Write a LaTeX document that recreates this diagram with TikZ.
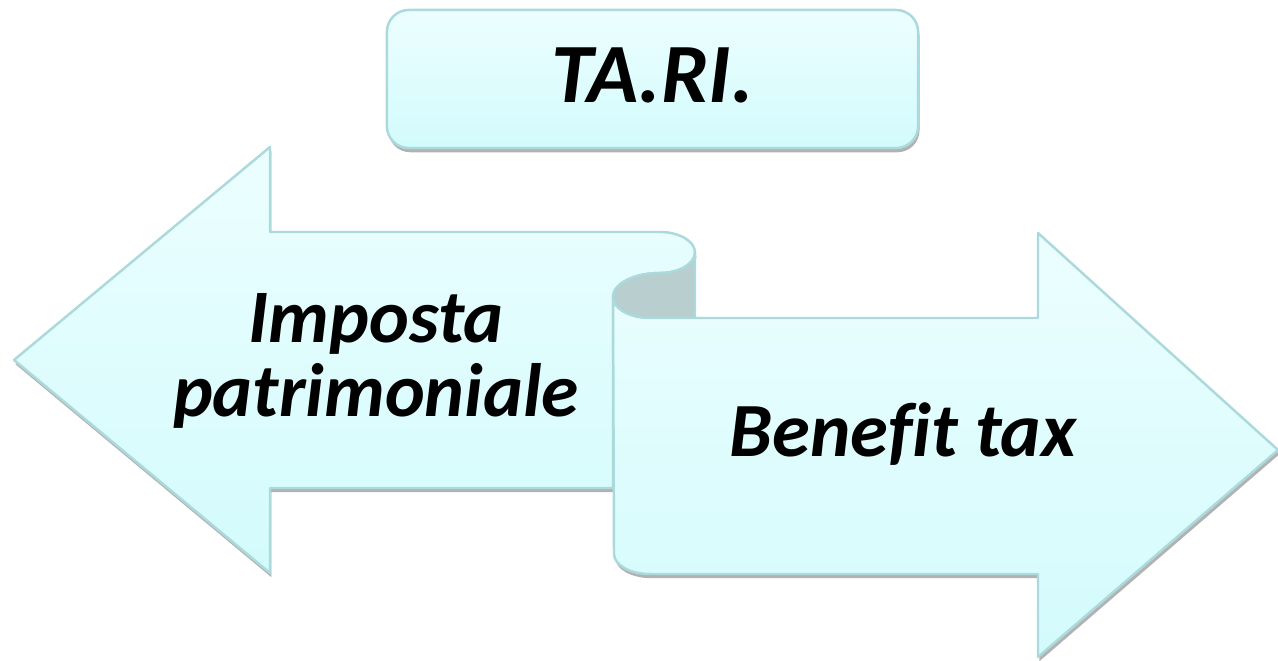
\documentclass[tikz,border=0pt]{standalone}
\usepackage{fontspec}
\setmainfont{Carlito}[Ligatures=CommonOff]
\usetikzlibrary{shadows}
\definecolor{paneltop}{HTML}{ECFEFF}
\definecolor{panelbot}{HTML}{D3FBFC}
\definecolor{paneledge}{HTML}{ABD9DC}
\definecolor{curlfill}{HTML}{B8CECF}
\begin{document}
\begin{tikzpicture}[
  x=0.01cm, y=0.01cm,
  panel/.style={draw=paneledge, line width=0.7pt, line join=round, top color=paneltop, bottom color=panelbot,
    drop shadow={shadow xshift=0.4pt, shadow yshift=-1.2pt, opacity=0.3, fill=black}},
  curl/.style={draw=paneledge, line width=0.7pt, line join=round, fill=curlfill},
  label/.style={text=black, inner sep=0pt, align=center}
]
\useasboundingbox (0,0) rectangle (1278,660);
% left arrow, its top rolls over
\draw[panel] (14,300) -- (270,513) -- (270,428) -- (660,428)
  arc[start angle=90, end angle=-90, x radius=35, y radius=20.5]
  arc[start angle=90, end angle=180, x radius=47, y radius=24]
  -- (613,172) -- (270,172) -- (270,87) -- cycle;
% underside of the roll
\draw[curl] (695,407.5) -- (695,342) -- (650,342)
  arc[start angle=270, end angle=180, x radius=37, y radius=21]
  arc[start angle=180, end angle=90, x radius=47, y radius=24]
  arc[start angle=-90, end angle=0, x radius=35, y radius=20.5] -- cycle;
% right arrow
\draw[panel] (613,363) arc[start angle=180, end angle=270, x radius=37, y radius=21]
  -- (1038,342) -- (1038,427) -- (1278,210) -- (1038,3) -- (1038,86) -- (650,86)
  arc[start angle=270, end angle=180, x radius=36, y radius=20] -- cycle;
% title box
\node[panel, label, rounded corners=2.2mm, minimum width=5.31cm, minimum height=1.38cm, text depth=0.8mm,
  font=\fontsize{24}{29}\selectfont\bfseries\itshape] (tari) at (652.5,581) {TA.RI.};
\node[label, font=\fontsize{21.5}{21}\selectfont\bfseries\itshape] (imposta) at (376,299) {Imposta\\patrimoniale};
\node[label, anchor=base, font=\fontsize{21.8}{26}\selectfont\bfseries\itshape] (benefit) at (903,203) {Benefit tax};
\end{tikzpicture}
\end{document}
